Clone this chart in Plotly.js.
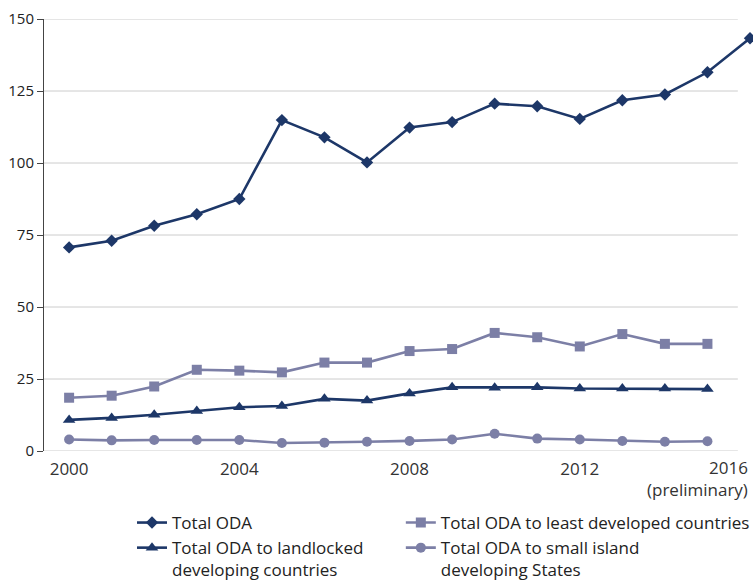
<!DOCTYPE html>
<html>
<head>
<meta charset="utf-8">
<script src="https://cdn.plot.ly/plotly-3.0.1.min.js"></script>
<style>html,body{margin:0;padding:0;background:#fff;}#chart{width:753px;height:582px;}</style>
</head>
<body>
<div id="chart"></div>
<script>
const yearsAll = [2000,2001,2002,2003,2004,2005,2006,2007,2008,2009,2010,2011,2012,2013,2014,2015,2016];
const yearsSub = [2000,2001,2002,2003,2004,2005,2006,2007,2008,2009,2010,2011,2012,2013,2014,2015];
const totalODA = [70.7,73.0,78.2,82.2,87.5,114.9,108.9,100.2,112.3,114.2,120.6,119.7,115.3,121.8,123.8,131.5,143.3];
const ldcODA   = [18.5,19.2,22.4,28.2,27.9,27.3,30.7,30.7,34.7,35.4,41.0,39.5,36.3,40.6,37.2,37.2];
const lldcODA  = [10.8,11.5,12.6,13.9,15.2,15.6,18.1,17.5,20.0,22.1,22.0,22.1,21.7,21.7,21.7,21.5];
const sidsODA  = [4.0,3.7,3.8,3.8,3.8,2.8,2.9,3.2,3.5,4.0,6.0,4.3,4.0,3.5,3.2,3.4];
const seriesNames = [
  "Total ODA",
  "Total ODA to least developed countries",
  "Total ODA to landlocked<br>developing countries",
  "Total ODA to small island<br>developing States"
];
const xTickVals = [2000,2004,2008,2012];
const lastTickLabel = "2016<br>(preliminary)";
const yTickVals = [0,25,50,75,100,125,150];

const navy = "#1d3768";
const lilac = "#7c7fa6";
const FONT = "'Open Sans', sans-serif";

const traces = [
  {x: yearsAll, y: totalODA, name: seriesNames[0], mode: "lines+markers", cliponaxis: false,
   legend: "legend", legendgroup: "a",
   line: {color: navy, width: 2.6}, marker: {symbol: "diamond", size: 9.5, color: navy}},
  {x: yearsSub, y: ldcODA, name: seriesNames[1], mode: "lines+markers", cliponaxis: false,
   legend: "legend2", legendgroup: "b",
   line: {color: lilac, width: 2.6}, marker: {symbol: "square", size: 10, color: lilac}},
  {x: yearsSub, y: lldcODA, name: seriesNames[2], mode: "lines+markers", cliponaxis: false,
   legend: "legend", legendgroup: "c",
   line: {color: navy, width: 2.6}, marker: {symbol: "triangle-up", size: 11, color: navy}},
  {x: yearsSub, y: sidsODA, name: seriesNames[3], mode: "lines+markers", cliponaxis: false,
   legend: "legend2", legendgroup: "d",
   line: {color: lilac, width: 2.6}, marker: {symbol: "circle", size: 10, color: lilac}}
];

const gridShapes = yTickVals.map(v => ({
  type: "line", xref: "paper", yref: "y", x0: 0, x1: 0.980, y0: v, y1: v,
  line: {color: "#cccccc", width: 1}, layer: "below"
}));

const legendCommon = {
  orientation: "v", xanchor: "left", y: -0.125, yanchor: "top",
  traceorder: "normal", tracegroupgap: 5, valign: "top",
  font: {size: 17, color: "#222", family: FONT},
  bgcolor: "rgba(0,0,0,0)", itemwidth: 30
};

const layout = {
  width: 753, height: 582,
  margin: {l: 44, r: 1, t: 19, b: 131, autoexpand: false},
  paper_bgcolor: "#fff", plot_bgcolor: "#fff",
  font: {family: FONT, color: "#222"},
  showlegend: true,
  xaxis: {
    range: [1999.41, 2016.047], tickvals: xTickVals, ticktext: xTickVals.map(String),
    showgrid: false, zeroline: false, showline: false, ticks: "",
    ticklabelstandoff: 6,
    tickfont: {size: 17, color: "#333", family: FONT}, fixedrange: true
  },
  yaxis: {
    range: [0, 150], tickvals: yTickVals, showgrid: false, zeroline: false,
    showline: true, linecolor: "#444", linewidth: 1,
    ticks: "outside", ticklen: 6, tickcolor: "#444", tickwidth: 1,
    tickfont: {size: 15, color: "#222", family: FONT}, fixedrange: true
  },
  shapes: gridShapes,
  annotations: [{
    xref: "x", x: 2016, yref: "paper", y: 0, yshift: -3,
    xanchor: "right", yanchor: "top", align: "right", showarrow: false,
    text: lastTickLabel, font: {size: 17, color: "#333", family: FONT}
  }],
  legend: Object.assign({x: 0.1243}, legendCommon),
  legend2: Object.assign({x: 0.504}, legendCommon)
};

Plotly.newPlot("chart", traces, layout, {displayModeBar: false, staticPlot: true});
</script>
</body>
</html>
